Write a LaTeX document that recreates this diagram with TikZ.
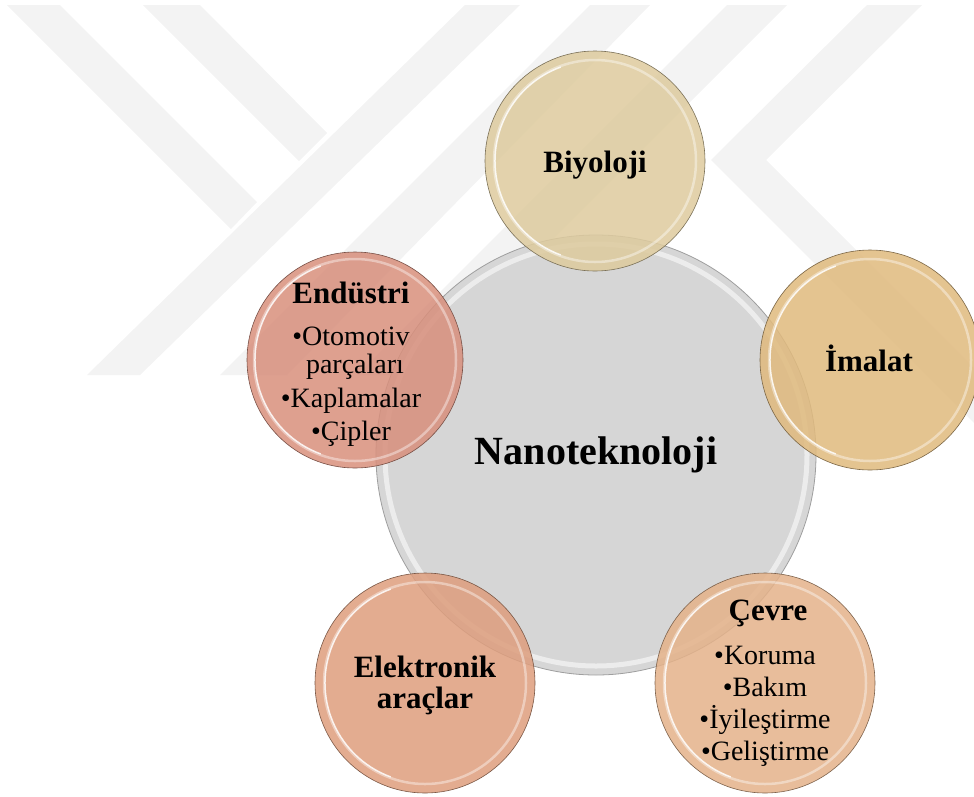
\documentclass[tikz,border=0pt]{standalone}
\usepackage{fontspec}
\setmainfont{Liberation Serif}
\usetikzlibrary{positioning}
\definecolor{SandTan}{RGB}{222,203,158}
\definecolor{HoneyGold}{RGB}{224,186,126}
\definecolor{RoseClay}{RGB}{216,144,125}
\definecolor{PeachClay}{RGB}{222,158,126}
\definecolor{ApricotSkin}{RGB}{228,178,138}
\definecolor{SilverGray}{RGB}{214,214,214}
\definecolor{MarkGray}{RGB}{243,243,243}

\begin{document}
\begin{tikzpicture}[x=1pt, y=-1pt,
		wmark/.style={fill=MarkGray},
		bubble/.style={circle, inner sep=0pt, minimum size=220pt, fill=#1, fill opacity=0.86, draw=#1!55!black, line width=0.6pt},
		head/.style={anchor=base, font=\fontsize{31}{36}\selectfont\bfseries},
		item/.style={anchor=base, font=\fontsize{28}{33}\selectfont},
		glint/.style={draw=white, line width=2.5pt, opacity=0.4}]
	\useasboundingbox (0,0) rectangle (974,796);
	
	% watermark in the background
	\fill[wmark] (7,5) -- (60,5) -- (257,202) -- (231,229) -- cycle;
	\fill[wmark] (143,5) -- (200,5) -- (327,133) -- (299,161) -- cycle;
	\fill[wmark] (87,375) -- (140,375) -- (520,5) -- (465,5) -- cycle;
	\fill[wmark] (220,375) -- (287,375) -- (650,5) -- (590,5) -- cycle;
	\fill[wmark] (357,375) -- (417,375) -- (787,5) -- (727,5) -- cycle;
	\fill[wmark] (867,5) -- (922,5) -- (766,160) -- (974,368) -- (974,423) -- (711,160) -- cycle;
	
	% central circle
	\node[circle, inner sep=0pt, minimum size=440pt, fill=SilverGray, draw=gray!75, line width=0.8pt] (nano) at (596,455) {};
	\draw[white, line width=5pt, opacity=0.55] (nano.center) circle (211pt);
	
	% satellites
	\node[bubble=SandTan] (bio) at (595,161) {};
	\node[bubble=HoneyGold] (ima) at (870,360) {};
	\node[bubble=RoseClay, minimum size=216pt] (endu) at (355,360) {};
	\node[bubble=PeachClay] (elek) at (425,683) {};
	\node[bubble=ApricotSkin] (cevre) at (765,683) {};
	\foreach \n in {bio,ima,endu,elek,cevre} {
		\draw[glint] (\n.center) circle (101pt);
		\draw[white, opacity=0.8, line width=1.5pt] ([shift={(110:100pt)}]\n.center) arc[start angle=110, end angle=250, radius=100pt];
	}
	
	% texts
	\node[anchor=base, font=\fontsize{40}{48}\selectfont\bfseries] (nanoTxt) at (596,464) {Nanoteknoloji};
	\node[head] (bioTxt) at (595,172) {Biyoloji};
	\node[head] (imaTxt) at (869,371) {İmalat};
	\node[head] (elekTxt) at (425,677) {Elektronik};
	\node[head] (elekTxt2) at (425,708) {araçlar};
	
	\node[head] (enduTxt) at (351,303) {Endüstri};
	\node[item] (endu1) at (351,345) {•Otomotiv};
	\node[item] (endu2) at (355,373) {parçaları};
	\node[item] (endu3) at (351,407) {•Kaplamalar};
	\node[item] (endu4) at (351,440) {•Çipler};
	
	\node[head] (cevreTxt) at (768,620) {Çevre};
	\node[item] (cevre1) at (765,664) {•Koruma};
	\node[item] (cevre2) at (765,696) {•Bakım};
	\node[item] (cevre3) at (765,728) {•İyileştirme};
	\node[item] (cevre4) at (765,760) {•Geliştirme};
\end{tikzpicture}
\end{document}
